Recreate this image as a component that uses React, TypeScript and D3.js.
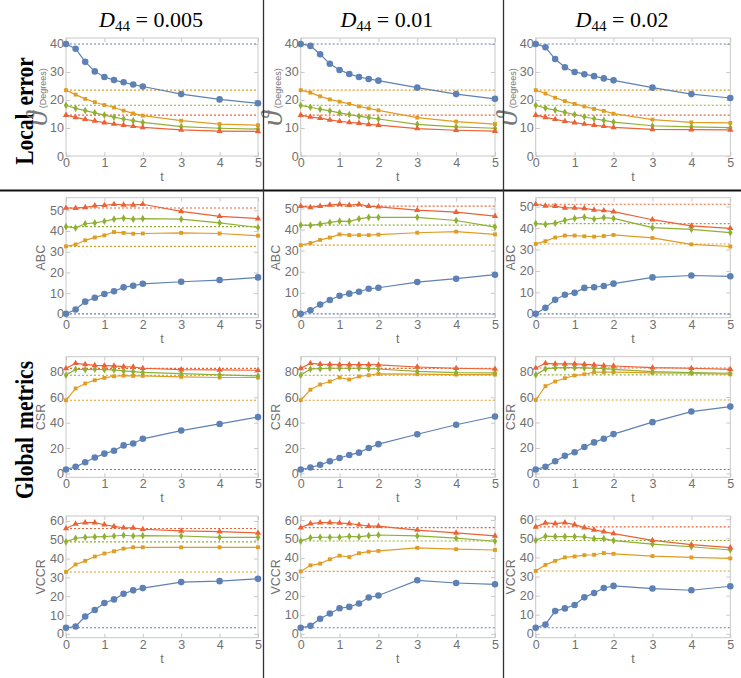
import { useEffect, useRef } from 'react';
import * as d3 from 'd3';

// time points (x axis)
const T = [0, 0.25, 0.5, 0.75, 1, 1.25, 1.5, 1.75, 2, 3, 4, 5];
const xTicks = [0, 1, 2, 3, 4, 5];
const columns = ['0.005', '0.01', '0.02'];

// each array: one row of values per column (D44 = 0.005, 0.01, 0.02)
const localBlue = [
  [40, 38.3, 33.6, 30.2, 28.2, 27.1, 26.3, 25.5, 24.8, 22.1, 20.2, 18.8],
  [40, 39.3, 36.3, 32.9, 30.7, 29.3, 28.2, 27.5, 26.9, 24.4, 22.1, 20.4],
  [40, 38.8, 34.6, 31.7, 30.0, 29.2, 28.5, 27.7, 27.0, 24.4, 22.1, 20.7],
];
const localOrange = [
  [23.5, 21.9, 20.4, 19.2, 18.2, 17.3, 16.2, 15.2, 14.4, 12.6, 11.4, 11.0],
  [23.5, 22.6, 21.3, 20.2, 19.4, 18.6, 17.7, 17.0, 16.3, 13.7, 12.3, 11.4],
  [23.5, 22.3, 20.8, 19.6, 18.6, 17.7, 16.8, 16.1, 15.1, 13.0, 12.0, 11.8],
];
const localGreen = [
  [18.1, 17.0, 16.2, 15.4, 14.6, 13.9, 13.2, 12.6, 12.0, 10.5, 9.9, 9.6],
  [18.1, 17.4, 16.7, 16.1, 15.4, 14.8, 14.2, 13.7, 13.2, 11.3, 10.4, 9.9],
  [18.1, 17.1, 16.4, 15.6, 14.8, 14.0, 13.3, 12.7, 12.1, 10.8, 10.4, 10.1],
];
const localRed = [
  [14.6, 13.8, 13.1, 12.5, 11.9, 11.4, 11.0, 10.6, 10.2, 9.3, 8.9, 8.8],
  [14.6, 13.9, 13.5, 12.9, 12.4, 12.0, 11.7, 11.3, 11.0, 9.8, 9.2, 8.9],
  [14.6, 13.8, 13.1, 12.4, 11.9, 11.4, 11.0, 10.6, 10.2, 9.5, 9.4, 9.3],
];

const abcBlue = [
  [0, 2.1, 5.9, 7.8, 9.6, 10.9, 12.8, 13.6, 14.5, 15.5, 16.3, 17.6],
  [0, 1.7, 4.4, 6.6, 8.6, 9.6, 10.5, 11.9, 12.4, 15.1, 16.7, 18.6],
  [0, 2.8, 6.6, 8.9, 9.8, 12.1, 12.4, 13.0, 14.1, 17.0, 17.9, 17.5],
];
const abcOrange = [
  [32.6, 33.5, 35.5, 36.9, 37.9, 39.5, 39.1, 38.7, 38.8, 39.1, 38.8, 37.7],
  [32.6, 33.6, 35.1, 36.2, 37.7, 37.4, 37.4, 37.4, 37.6, 38.5, 39.0, 37.7],
  [32.6, 33.9, 35.6, 36.5, 36.5, 36.2, 36.0, 36.3, 36.8, 35.4, 32.4, 31.4],
];
const abcGreen = [
  [42.1, 41.5, 43.5, 43.9, 44.7, 45.7, 46.2, 45.7, 46.0, 45.7, 43.9, 41.7],
  [42.1, 42.0, 42.6, 43.4, 44.0, 43.9, 45.1, 45.8, 45.8, 45.8, 44.3, 41.2],
  [42.1, 41.7, 42.3, 43.6, 44.5, 45.1, 44.2, 44.9, 44.5, 40.2, 39.4, 37.9],
];
const abcRed = [
  [51.1, 51.0, 51.4, 52.2, 52.4, 52.9, 52.6, 52.6, 52.9, 49.5, 47.1, 46.0],
  [51.1, 50.5, 51.1, 51.7, 52.0, 51.6, 52.0, 51.1, 50.8, 49.2, 48.3, 46.4],
  [51.1, 50.3, 50.2, 49.4, 49.4, 49.2, 48.5, 48.2, 47.7, 43.9, 41.0, 39.9],
];

const csrBlue = [
  [3.1, 5.2, 8.8, 12.5, 15.6, 17.9, 22.1, 23.6, 27.3, 33.8, 39.0, 44.4],
  [3.1, 4.7, 6.8, 9.6, 12.2, 14.5, 16.4, 20.0, 23.1, 30.9, 38.4, 44.9],
  [3.1, 5.2, 9.6, 13.8, 16.6, 20.8, 24.4, 27.3, 30.9, 40.3, 48.6, 52.5],
];
const csrOrange = [
  [57.7, 67.0, 70.9, 73.5, 75.3, 76.6, 77.1, 76.9, 76.9, 76.1, 75.6, 75.6],
  [57.7, 66.0, 70.1, 72.5, 75.6, 74.0, 76.4, 77.4, 78.4, 78.2, 77.9, 77.9],
  [57.7, 68.6, 72.2, 74.8, 76.9, 77.9, 79.5, 79.5, 79.5, 79.0, 78.7, 77.9],
];
const csrGreen = [
  [77.4, 82.1, 81.8, 82.1, 81.8, 81.6, 80.8, 80.3, 79.7, 78.7, 77.7, 76.9],
  [77.4, 82.3, 82.6, 82.9, 82.9, 82.9, 82.9, 82.6, 82.3, 80.5, 79.5, 79.2],
  [77.4, 82.1, 82.9, 83.1, 83.1, 82.9, 82.6, 82.3, 81.8, 80.0, 79.2, 78.7],
];
const csrRed = [
  [82.8, 86.8, 86.0, 85.2, 84.9, 84.7, 84.2, 83.9, 82.9, 81.8, 81.6, 81.3],
  [82.8, 86.8, 86.2, 86.0, 85.7, 85.7, 85.7, 85.7, 85.5, 83.9, 82.9, 82.3],
  [82.8, 86.5, 86.0, 86.0, 86.0, 85.7, 85.2, 84.7, 84.4, 83.1, 82.6, 81.8],
];

const vccrBlue = [
  [3.2, 3.9, 9.2, 12.7, 16.4, 18.3, 21.3, 23.1, 24.3, 27.5, 28.0, 29.3],
  [3.2, 4.2, 7.9, 10.7, 13.5, 14.2, 16.0, 19.1, 20.2, 28.2, 26.8, 26.1],
  [3.2, 4.9, 11.9, 13.3, 15.1, 19.1, 21.4, 24.0, 25.1, 23.7, 22.8, 24.9],
];
const vccrOrange = [
  [32.9, 36.9, 38.8, 41.1, 42.7, 43.9, 45.3, 46.0, 46.0, 46.0, 46.0, 46.0],
  [32.9, 36.1, 37.0, 39.3, 41.2, 40.5, 42.5, 43.3, 43.7, 45.3, 44.6, 44.2],
  [32.9, 36.1, 38.2, 40.0, 40.5, 41.2, 41.4, 42.3, 41.9, 40.7, 40.0, 39.5],
];
const vccrGreen = [
  [48.9, 50.8, 51.3, 51.5, 51.7, 52.0, 52.4, 52.0, 52.2, 52.0, 51.3, 51.3],
  [48.9, 50.7, 50.9, 50.9, 50.9, 51.4, 51.1, 51.8, 52.1, 51.6, 50.4, 48.8],
  [48.9, 51.1, 50.9, 50.9, 50.9, 50.7, 49.8, 49.8, 48.8, 47.0, 45.6, 43.9],
];
const vccrRed = [
  [56.0, 58.4, 59.1, 59.1, 58.0, 57.1, 56.4, 56.3, 55.6, 54.7, 54.3, 53.6],
  [56.0, 58.1, 58.6, 58.6, 58.4, 58.1, 57.5, 56.8, 56.8, 54.7, 53.2, 51.6],
  [56.0, 58.1, 57.7, 58.2, 57.2, 55.6, 54.4, 53.5, 52.5, 48.9, 46.7, 45.1],
];

const rowLabels = ['', 'ABC', 'CSR', 'VCCR'];
const yTicks = [
  [0, 10, 20, 30, 40],
  [0, 10, 20, 30, 40, 50],
  [0, 20, 40, 60, 80],
  [0, 10, 20, 30, 40, 50, 60],
];
const rowData = [
  [localBlue, localOrange, localGreen, localRed],
  [abcBlue, abcOrange, abcGreen, abcRed],
  [csrBlue, csrOrange, csrGreen, csrRed],
  [vccrBlue, vccrOrange, vccrGreen, vccrRed],
];

const COLORS = ['#5E81B5', '#E19C24', '#8FB032', '#EB6235'];
const SYMBOLS = [d3.symbolCircle, d3.symbolSquare, d3.symbolDiamond, d3.symbolTriangle];
const SYMBOL_SIZES = [34, 15, 17, 17];

// plot frames (pixels)
const colX = [[66, 258], [300.7, 495], [535.7, 730.3]];
const rowY = [[38, 156], [197.7, 317.7], [356.7, 477.3], [516, 637.7]];

const FRAME = '#c8c8c8';
const TICK_TEXT = '#707070';
const SANS = "'Liberation Sans', Arial, sans-serif";
const SERIF = "'Liberation Serif', 'Times New Roman', serif";

export default function App() {
  const svgRef = useRef<SVGSVGElement>(null);

  useEffect(() => {
    const svg = d3.select(svgRef.current);
    svg.selectAll('*').remove();

    svg.append('rect').attr('width', 741).attr('height', 678).attr('fill', '#fff');

    // column titles
    columns.forEach((c, ci) => {
      const cx = (colX[ci][0] + colX[ci][1]) / 2 - 11;
      const t = svg.append('text')
        .attr('x', cx).attr('y', 27)
        .attr('text-anchor', 'middle')
        .attr('font-family', SERIF)
        .attr('font-size', 22)
        .attr('fill', '#000');
      t.append('tspan').attr('font-style', 'italic').text('D');
      t.append('tspan').attr('font-size', 15).attr('dy', 4).text('44');
      t.append('tspan').attr('dy', -4).text(' = ' + c);
    });

    // section labels (slightly condensed along the reading direction)
    svg.append('text')
      .attr('transform', 'translate(33,111) rotate(-90) scale(0.86,1)')
      .attr('text-anchor', 'middle')
      .attr('font-family', SERIF).attr('font-weight', 'bold')
      .attr('font-size', 25)
      .attr('word-spacing', 3)
      .text('Local error');
    svg.append('text')
      .attr('transform', 'translate(33,430) rotate(-90) scale(0.86,1)')
      .attr('text-anchor', 'middle')
      .attr('font-family', SERIF).attr('font-weight', 'bold')
      .attr('font-size', 25)
      .attr('word-spacing', 3)
      .text('Global metrics');

    rowData.forEach((series, ri) => {
      columns.forEach((_, ci) => {
        const [x0, x1] = colX[ci];
        const [yt, yb] = rowY[ri];
        const vals = series.map(s => s[ci]);
        const max = d3.max(vals.flat()) as number;

        const x = d3.scaleLinear().domain([0, 5]).range([x0, x1]);
        const y = d3.scaleLinear()
          .domain(ri === 0 ? [0, max * 1.053] : [-0.035 * max, max * 1.06])
          .range([yb, yt]);

        const g = svg.append('g');

        g.append('rect')
          .attr('x', x0).attr('y', yt)
          .attr('width', x1 - x0).attr('height', yb - yt)
          .attr('fill', 'none').attr('stroke', FRAME).attr('stroke-width', 1);

        const styleAxis = (ax: any, withText: boolean) => {
          ax.select('.domain').remove();
          ax.selectAll('line').attr('stroke', FRAME);
          if (withText) {
            ax.selectAll('text')
              .attr('fill', TICK_TEXT)
              .attr('font-family', SANS)
              .attr('font-size', 12.5);
          }
        };

        const bottom = g.append('g').attr('transform', `translate(0,${yb})`)
          .call(d3.axisBottom(x).tickValues(xTicks).tickSize(-4).tickPadding(2).tickFormat(d3.format('d')));
        styleAxis(bottom, true);
        const left = g.append('g').attr('transform', `translate(${x0},0)`)
          .call(d3.axisLeft(y).tickValues(yTicks[ri]).tickSize(-4).tickPadding(2).tickFormat(d3.format('d')));
        styleAxis(left, true);
        const top = g.append('g').attr('transform', `translate(0,${yt})`)
          .call(d3.axisTop(x).tickValues(xTicks).tickSize(-4).tickFormat(() => ''));
        styleAxis(top, false);
        const right = g.append('g').attr('transform', `translate(${x1},0)`)
          .call(d3.axisRight(y).tickValues(yTicks[ri]).tickSize(-4).tickFormat(() => ''));
        styleAxis(right, false);

        // x label
        g.append('text')
          .attr('x', (x0 + x1) / 2).attr('y', yb + 25)
          .attr('text-anchor', 'middle')
          .attr('font-family', SANS).attr('font-size', 12.5)
          .attr('fill', TICK_TEXT)
          .text('t');

        // y label
        const ymid = (yt + yb) / 2;
        if (ri === 0) {
          const lbl = g.append('text')
            .attr('transform', `translate(${x0 - 19},${ymid}) rotate(-90)`)
            .attr('text-anchor', 'middle')
            .attr('fill', '#777');
          lbl.append('tspan')
            .attr('font-family', SERIF).attr('font-style', 'italic')
            .attr('font-size', 30).text('\u03D1');
          lbl.append('tspan')
            .attr('font-family', SANS).attr('font-size', 9)
            .attr('dx', 3).attr('dy', -1).text('(Degrees)');
        } else {
          g.append('text')
            .attr('transform', `translate(${x0 - 21},${ymid}) rotate(-90)`)
            .attr('text-anchor', 'middle')
            .attr('font-family', SANS).attr('font-size', 12.5)
            .attr('fill', TICK_TEXT)
            .text(rowLabels[ri]);
        }

        // dotted reference at starting value
        vals.forEach((v, si) => {
          g.append('line')
            .attr('x1', x0).attr('x2', x1)
            .attr('y1', y(v[0])).attr('y2', y(v[0]))
            .attr('stroke', COLORS[si])
            .attr('stroke-width', 1.1)
            .attr('stroke-dasharray', '2,2');
        });

        const line = d3.line<number>()
          .x((_, i) => x(T[i]))
          .y(d => y(d));

        vals.forEach((v, si) => {
          g.append('path')
            .attr('d', line(v))
            .attr('fill', 'none')
            .attr('stroke', COLORS[si])
            .attr('stroke-width', 1.2);
          g.selectAll(`.m${si}`)
            .data(v)
            .enter()
            .append('path')
            .attr('class', `m${si}`)
            .attr('transform', (d, i) => `translate(${x(T[i])},${y(d)})`)
            .attr('d', d3.symbol().type(SYMBOLS[si]).size(SYMBOL_SIZES[si])())
            .attr('fill', COLORS[si]);
        });
      });
    });

    // dividers
    svg.append('line')
      .attr('x1', 0).attr('x2', 741).attr('y1', 190.5).attr('y2', 190.5)
      .attr('stroke', '#111').attr('stroke-width', 2);
    [263.5, 503.5].forEach(xx => {
      svg.append('line')
        .attr('x1', xx).attr('x2', xx).attr('y1', 0).attr('y2', 678)
        .attr('stroke', '#333').attr('stroke-width', 1.3);
    });
  }, []);

  return (
    <svg
      ref={svgRef}
      width={741}
      height={678}
      style={{ position: 'absolute', left: 0, top: 0 }}
    />
  );
}
